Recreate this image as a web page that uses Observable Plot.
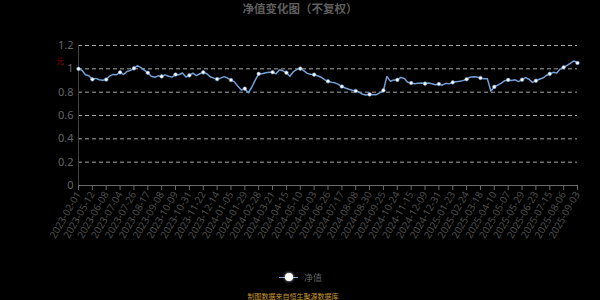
<!DOCTYPE html>
<html>
<head>
<meta charset="utf-8">
<script src="https://cdn.jsdelivr.net/npm/d3@7"></script>
<script src="https://cdn.jsdelivr.net/npm/@observablehq/plot@0.6"></script>
<style>
  html, body { margin: 0; padding: 0; background: #000; }
  #wrap { position: relative; width: 600px; height: 300px; background: #000; overflow: hidden;
    font-family: "Noto Sans", "Noto Sans CJK SC", sans-serif; }
  #title { position: absolute; left: 0; top: 0; width: 600px; text-align: center; font-size: 11.5px;
    font-weight: bold; color: #5e5e5e; line-height: 18px; }
  #chart { position: absolute; left: 0; top: 0; }
  #legend { position: absolute; top: 270px; left: 279px; height: 14px; display: flex; align-items: center; }
  #legend .sw { position: relative; width: 19px; height: 14px; }
  #legend .sw .ln { position: absolute; left: 0; top: 6.5px; width: 19px; height: 1.5px; background: #7aa6dc; }
  #legend .sw .dot { position: absolute; left: 5.5px; top: 3px; width: 8px; height: 8px; border-radius: 50%;
    background: #fff; box-shadow: 0 0 3px #cfe3ff; }
  #legend .tx { margin-left: 6px; font-size: 9px; color: #5e5e5e; font-family: "Noto Sans CJK SC", sans-serif; }
  #caption { position: absolute; top: 290px; left: 0; width: 586px; text-align: center; font-size: 7px;
    color: #c99a2e; font-family: "Noto Sans CJK SC", sans-serif; line-height: 12px; }
</style>
</head>
<body>
<div id="wrap">
  <div id="chart"></div>
  <div id="title">净值变化图（不复权）</div>
  <div id="legend"><div class="sw"><div class="ln"></div><div class="dot"></div></div><div class="tx">净值</div></div>
  <div id="caption">制图数据来自恒生聚源数据库</div>
</div>
<script>
// Tick labels shown on the category axis (every 4th data point)
const tickLabels = [
  "2023-02-01","2023-05-12","2023-06-08","2023-07-04","2023-07-26","2023-08-17","2023-09-08",
  "2023-10-09","2023-10-31","2023-11-22","2023-12-14","2024-01-05","2024-01-29","2024-02-28",
  "2024-03-21","2024-04-15","2024-05-10","2024-06-03","2024-06-26","2024-07-17","2024-08-08",
  "2024-08-30","2024-09-25","2024-10-24","2024-11-15","2024-12-09","2024-12-31","2025-01-23",
  "2025-02-24","2025-03-18","2025-04-10","2025-05-07","2025-05-29","2025-06-23","2025-07-15",
  "2025-08-06","2025-09-03"
];
const pointsPerLabel = 4;

const netValues = [
  1.000,0.988,0.950,0.940, 0.910,0.918,0.907,0.902, 0.908,0.938,0.952,0.950,
  0.970,0.952,0.977,0.987, 1.004,1.027,1.011,0.989, 0.966,0.937,0.928,0.940,
  0.935,0.948,0.937,0.929, 0.951,0.949,0.964,0.930, 0.944,0.963,0.942,0.958,
  0.970,0.959,0.932,0.920, 0.912,0.920,0.933,0.921, 0.904,0.888,0.850,0.818,
  0.830,0.795,0.842,0.903, 0.957,0.958,0.967,0.971, 0.971,0.957,0.992,0.983,
  0.967,0.937,0.975,0.995, 1.002,0.985,0.961,0.953, 0.950,0.941,0.928,0.908,
  0.893,0.885,0.880,0.867, 0.848,0.836,0.825,0.817, 0.810,0.801,0.782,0.775,
  0.781,0.777,0.778,0.797, 0.815,0.935,0.893,0.905, 0.905,0.926,0.917,0.885,
  0.878,0.872,0.877,0.879, 0.873,0.878,0.872,0.864, 0.870,0.860,0.876,0.871,
  0.884,0.889,0.893,0.899, 0.911,0.928,0.933,0.929, 0.922,0.914,0.914,0.810,
  0.845,0.861,0.877,0.898, 0.905,0.900,0.906,0.891, 0.907,0.925,0.911,0.884,
  0.898,0.911,0.921,0.943, 0.957,0.970,0.965,0.998, 1.013,1.029,1.048,1.068,
  1.050
];
const yTicks = [0, 0.2, 0.4, 0.6, 0.8, 1.0, 1.2];

const data = netValues.map((v, i) => ({i, v}));
const labelIdx = tickLabels.map((_, j) => j * pointsPerLabel);
const markerData = data.filter(d => d.i % pointsPerLabel === 0 || d.i === netValues.length - 1);
const fmtY = d => String(+d.toFixed(1));

const chart = Plot.plot({
  width: 600,
  height: 300,
  marginLeft: 78,
  marginRight: 23,
  marginTop: 45,
  marginBottom: 115,
  style: {background: "transparent", fontFamily: "'Noto Sans', sans-serif"},
  x: {type: "linear", domain: [0, netValues.length - 1]},
  y: {domain: [0, 1.2]},
  marks: [
    Plot.gridY(yTicks.filter(t => t > 0), {stroke: "#d0d0d0", strokeOpacity: 1, strokeWidth: 0.8, strokeDasharray: "4,3"}),
    Plot.ruleX([0], {y1: 0, y2: 1.2, stroke: "#444", strokeWidth: 1}),
    Plot.ruleY([0], {stroke: "#6a6a6a", strokeWidth: 1}),
    Plot.axisY({ticks: yTicks, tickFormat: fmtY, tickSize: 0, tickPadding: 5, fill: "#666", fontSize: 11, label: null}),
    Plot.axisX({ticks: labelIdx, tickFormat: d => tickLabels[Math.round(d / pointsPerLabel)],
      tickRotate: -60, tickSize: 5, tickPadding: 2, stroke: "#6a6a6a", fill: "#4e4e4e", fontSize: 10, label: null}),
    Plot.text(["元"], {frameAnchor: "top-left", dx: -23, dy: 13, fill: "#8b0000", fontSize: 8}),
    Plot.line(data, {x: "i", y: "v", stroke: "#729fd6", strokeWidth: 1.5}),
    Plot.dot(markerData, {x: "i", y: "v", r: 1.8, fill: "#ffffff", stroke: "#729fd6", strokeWidth: 0.6})
  ]
});
document.getElementById("chart").appendChild(chart);
</script>
</body>
</html>
